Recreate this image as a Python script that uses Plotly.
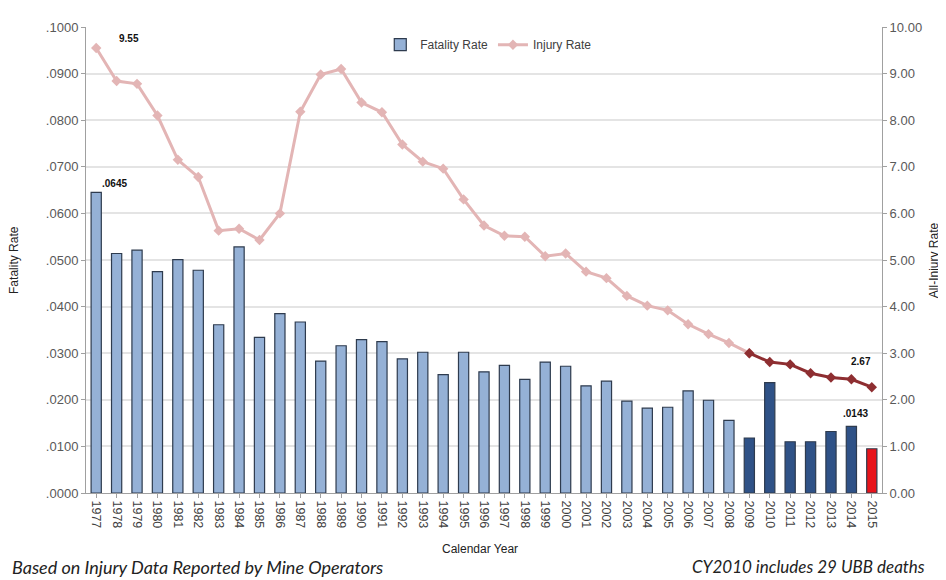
import plotly.graph_objects as go

years = [str(y) for y in range(1977, 2016)]
fatality_rate = [0.0645, 0.0514, 0.0521, 0.0475, 0.0501, 0.0478, 0.0361, 0.0528, 0.0334, 0.0385,
                 0.0367, 0.0283, 0.0316, 0.0329, 0.0325, 0.0288, 0.0302, 0.0254, 0.0302, 0.0260,
                 0.0274, 0.0244, 0.0281, 0.0272, 0.0230, 0.0240, 0.0197, 0.0182, 0.0184, 0.0219,
                 0.0199, 0.0156, 0.0118, 0.0237, 0.0110, 0.0110, 0.0132, 0.0143, 0.0095]
injury_rate = [9.55, 8.84, 8.78, 8.10, 7.15, 6.78, 5.63, 5.67, 5.43, 6.00,
               8.18, 8.98, 9.10, 8.38, 8.17, 7.48, 7.11, 6.96, 6.30, 5.74,
               5.52, 5.50, 5.08, 5.14, 4.75, 4.61, 4.23, 4.02, 3.92, 3.62,
               3.41, 3.22, 3.00, 2.81, 2.76, 2.57, 2.48, 2.44, 2.27]
left_ticks = [0.0, 0.01, 0.02, 0.03, 0.04, 0.05, 0.06, 0.07, 0.08, 0.09, 0.10]
left_labels = [".0000", ".0100", ".0200", ".0300", ".0400", ".0500", ".0600", ".0700", ".0800", ".0900", ".1000"]
right_ticks = [0, 1, 2, 3, 4, 5, 6, 7, 8, 9, 10]
right_labels = ["0.00", "1.00", "2.00", "3.00", "4.00", "5.00", "6.00", "7.00", "8.00", "9.00", "10.00"]
recent_start = "2009"
current_year = "2015"

i_recent = years.index(recent_start)
bar_colors = []
for y in years:
    if y == current_year:
        bar_colors.append("#E8141B")
    elif int(y) >= int(recent_start):
        bar_colors.append("#2F5287")
    else:
        bar_colors.append("#95B1D6")

fig = go.Figure()
fig.add_trace(go.Bar(
    x=years, y=fatality_rate, name="Fatality Rate",
    marker=dict(color=bar_colors, line=dict(color="#2E3B4E", width=1.2)),
    yaxis="y",
))
fig.add_trace(go.Scatter(
    x=years[:i_recent + 1], y=injury_rate[:i_recent + 1], name="Injury Rate",
    mode="lines+markers",
    line=dict(color="#E3B5B5", width=3),
    marker=dict(symbol="diamond", size=8, color="#E3B5B5"),
    yaxis="y2",
))
fig.add_trace(go.Scatter(
    x=years[i_recent:], y=injury_rate[i_recent:], name="Injury Rate",
    mode="lines+markers", showlegend=False,
    line=dict(color="#8E2E31", width=3),
    marker=dict(symbol="diamond", size=8, color="#8E2E31"),
    yaxis="y2",
))

tick_font = dict(family="Liberation Sans", size=13, color="#595959")
lbl_font = dict(family="Liberation Sans", size=10, color="#111111")
title_font = dict(family="Liberation Sans", size=12, color="#222222")
fig.update_layout(
    width=938, height=572,
    margin=dict(l=78, r=64, t=12, b=87),
    paper_bgcolor="white", plot_bgcolor="white",
    bargap=0.5,
    showlegend=True,
    legend=dict(orientation="h", x=0.506, y=0.962, xanchor="center", yanchor="middle",
                font=dict(family="Liberation Sans", size=12, color="#404040"),
                bgcolor="rgba(0,0,0,0)"),
    xaxis=dict(
        type="category", range=[-0.5, len(years) - 0.5], autorange=False,
        tickangle=90, tickfont=dict(family="Liberation Sans", size=12.5, color="#404040"),
        showline=True, linecolor="#A0A0A0", ticks="outside", ticklen=4, tickcolor="#A0A0A0",
        showgrid=False,
    ),
    yaxis=dict(
        range=[0, 0.1], tickvals=left_ticks, ticktext=left_labels, tickfont=tick_font,
        showline=True, linecolor="#A0A0A0", ticks="outside", ticklen=4, tickcolor="#A0A0A0",
        showgrid=True, gridcolor="#E4E4E4", gridwidth=1.5, zeroline=False,
    ),
    yaxis2=dict(
        range=[0, 10], tickvals=right_ticks, ticktext=right_labels, tickfont=tick_font,
        overlaying="y", side="right",
        showline=True, linecolor="#A0A0A0", ticks="outside", ticklen=4, tickcolor="#A0A0A0",
        showgrid=False, zeroline=False,
    ),
    annotations=[
        dict(x=0, y=injury_rate[0], xref="x", yref="y2", text="<b>9.55</b>", showarrow=False,
             xshift=33, yshift=9, font=lbl_font),
        dict(x=0, y=fatality_rate[0], xref="x", yref="y", text="<b>.0645</b>", showarrow=False,
             xshift=18, yshift=9, font=lbl_font),
        dict(x=len(years) - 2, y=fatality_rate[-2], xref="x", yref="y", text="<b>.0143</b>", showarrow=False,
             xshift=4, yshift=13, font=lbl_font),
        dict(x=len(years) - 2, y=injury_rate[-1], xref="x", yref="y2", text="<b>2.67</b>", showarrow=False,
             xshift=10, yshift=26, font=lbl_font),
        dict(xref="paper", yref="paper", x=0.495, y=-0.1205, text="Calendar Year",
             showarrow=False, xanchor="center", yanchor="middle", font=title_font),
        dict(xref="paper", yref="paper", x=-0.0905, y=0.5, text="Fatality Rate", textangle=-90,
             showarrow=False, xanchor="center", yanchor="middle", font=title_font),
        dict(xref="paper", yref="paper", x=1.0655, y=0.5, text="All-Injury Rate", textangle=-90,
             showarrow=False, xanchor="center", yanchor="middle", font=title_font),
        dict(xref="paper", yref="paper", x=-0.0960, y=-0.158, text="<i>Based on Injury Data Reported by Mine Operators</i>",
             showarrow=False, xanchor="left", yanchor="middle",
             font=dict(family="Lato", size=18, color="#222222")),
        dict(xref="paper", yref="paper", x=1.0565, y=-0.158, text="<i>CY2010 includes 29 UBB deaths</i>",
             showarrow=False, xanchor="right", yanchor="middle",
             font=dict(family="Lato", size=17, color="#222222")),
    ],
)

fig.write_html("out.html")
